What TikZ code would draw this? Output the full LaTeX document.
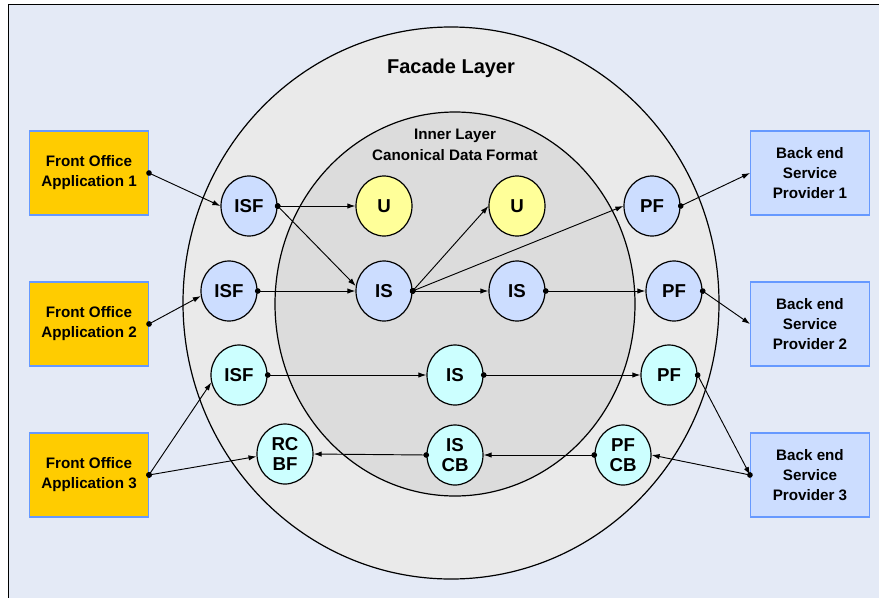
\documentclass[tikz,border=0pt]{standalone}
\usepackage{fontspec}
\setmainfont{Liberation Sans}
\usetikzlibrary{shapes.geometric,arrows.meta}

\definecolor{bgblue}{HTML}{E4EAF6}
\definecolor{facadegray}{HTML}{EAEAEA}
\definecolor{innergray}{HTML}{DCDCDC}
\definecolor{appyellow}{HTML}{FFCC00}
\definecolor{boxedge}{HTML}{6699FF}
\definecolor{provblue}{HTML}{CCDDFF}
\definecolor{svcblue}{HTML}{CCDDFF}
\definecolor{svcyellow}{HTML}{FFFF99}
\definecolor{svccyan}{HTML}{CCFFFF}

\begin{document}
\begin{tikzpicture}[%
    x=0.75pt, y=-0.75pt,
    app/.style={draw=boxedge, fill=appyellow, line width=0.9pt, minimum width=89pt, minimum height=63pt, align=center, font=\fontsize{11.4}{15}\selectfont\bfseries},
    prov/.style={app, fill=provblue},
    svc/.style={ellipse, draw, line width=0.9pt, minimum width=42pt, minimum height=45pt, inner sep=0pt, align=center, font=\fontsize{14}{15}\selectfont\bfseries},
    svcb/.style={svc, fill=svcblue},
    svcy/.style={svc, fill=svcyellow},
    svcc/.style={svc, fill=svccyan},
    link/.style={{Circle[length=4.2pt]}-{Latex[length=6pt,width=4pt]}, line width=0.7pt, shorten <=-2pt}]

    \useasboundingbox (0,0) rectangle (879,597);
    \clip (0,0) rectangle (879,597);
    \filldraw[fill=bgblue, draw=black, line width=1pt] (8.5,4.5) rectangle (895,610);

    % layers
    \filldraw[fill=facadegray, line width=0.9pt] (451,303) ellipse [x radius=268, y radius=276];
    \filldraw[fill=innergray, line width=0.9pt] (455,304) ellipse [x radius=180, y radius=192];

    \node[font=\fontsize{15}{18}\selectfont\bfseries] (facade) at (451,68) {Facade Layer};
    \node[align=center, font=\fontsize{11.4}{15.75}\selectfont\bfseries] (inner) at (455,145) {Inner Layer\\Canonical Data Format};

    \node[app] (fo1) at (89,173) {Front Office\\Application 1};
    \node[app] (fo2) at (89,324) {Front Office\\Application 2};
    \node[app] (fo3) at (89,475) {Front Office\\Application 3};

    \node[prov] (be1) at (810,173) {Back end\\Service\\Provider 1};
    \node[prov] (be2) at (810,324) {Back end\\Service\\Provider 2};
    \node[prov] (be3) at (810,475) {Back end\\Service\\Provider 3};

    \node[svcb] (isfA) at (249,206) {ISF};
    \node[svcy] (uA) at (384,206) {U};
    \node[svcy] (uB) at (517,206) {U};
    \node[svcb] (pfA) at (652,206) {PF};

    \node[svcb] (isfB) at (229,291) {ISF};
    \node[svcb] (isA) at (384,291) {IS};
    \node[svcb] (isB) at (517,291) {IS};
    \node[svcb] (pfB) at (674,291) {PF};

    \node[svcc] (isfC) at (239,375) {ISF};
    \node[svcc] (isC) at (455,375) {IS};
    \node[svcc] (pfC) at (669,375) {PF};

    \node[svcc] (rcbf) at (285,454) {RC\\BF};
    \node[svcc] (iscb) at (455,455) {IS\\CB};
    \node[svcc] (pfcb) at (623,455) {PF\\CB};

    \draw[link] (fo1.east) -- (isfA.west);
    \draw[link] (fo2.east) -- (isfB.190);
    \draw[link] (fo3.east) -- (isfC.195);
    \draw[link] (fo3.east) -- (rcbf.185);

    \draw[link] (isfA.east) -- (uA.west);
    \draw[link] (isfA.east) -- (isA.170);
    \draw[link] (isfB.east) -- (isA.west);

    \draw[link] (isA.east) -- (uB.west);
    \draw[link] (isA.east) -- (pfA.west);
    \draw[link] (isA.east) -- (isB.west);
    \draw[link] (isB.east) -- (pfB.west);

    \draw[link] (pfA.east) -- (be1.west);
    \draw[link] (pfB.east) -- (be2.west);

    \draw[link] (isfC.east) -- (isC.west);
    \draw[link] (isC.east) -- (pfC.west);
    \draw[link] (pfC.east) -- (be3.west);

    \draw[link] (be3.west) -- (pfcb.east);
    \draw[link] (pfcb.west) -- (iscb.east);
    \draw[link] (iscb.west) -- (rcbf.east);

\end{tikzpicture}
\end{document}
